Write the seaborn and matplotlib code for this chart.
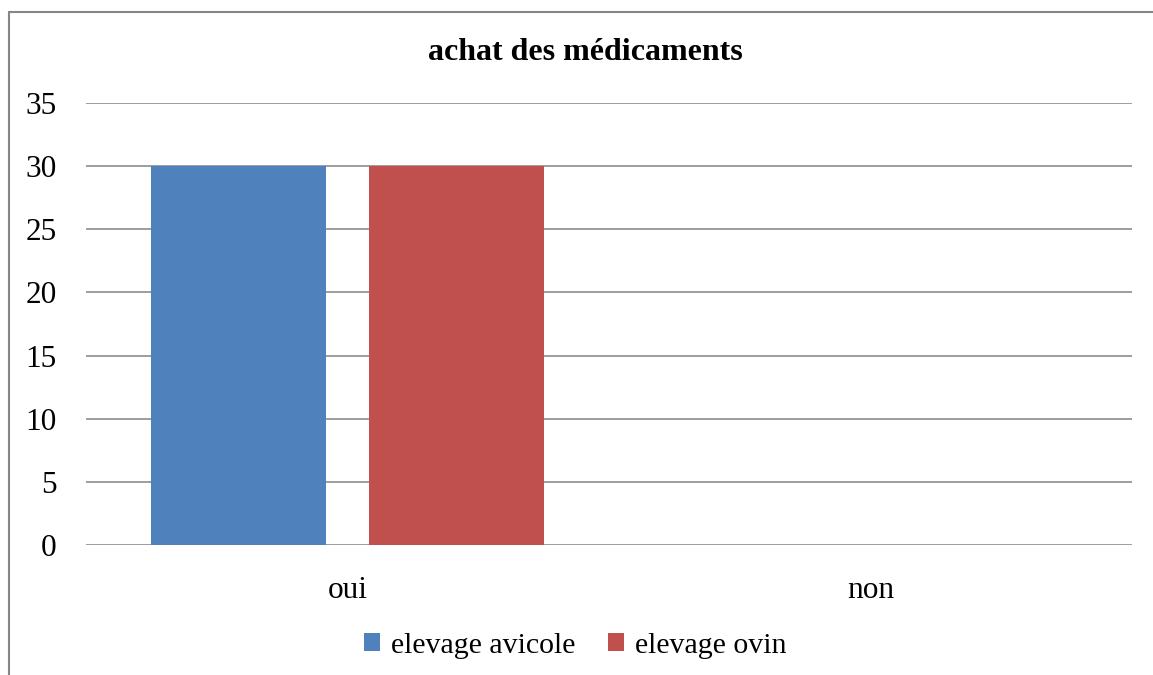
import matplotlib
matplotlib.use("Agg")
import matplotlib.pyplot as plt
import seaborn as sns
import pandas as pd
from matplotlib.lines import Line2D
from matplotlib.patches import Patch

categories = ["oui", "non"]
series_names = ["elevage avicole", "elevage ovin"]
avicole = [30, 0]
ovin = [30, 0]
colors = ["#4F81BD", "#C0504D"]
yticks = [0, 5, 10, 15, 20, 25, 30, 35]
title = "achat des médicaments"

df = pd.DataFrame({
    "cat": categories * 2,
    "serie": [series_names[0]] * 2 + [series_names[1]] * 2,
    "val": avicole + ovin,
})

sns.set_theme(style="white")
plt.rcParams["font.family"] = ["Liberation Serif", "DejaVu Serif"]
plt.rcParams["text.color"] = "black"

fig = plt.figure(figsize=(11.53, 6.75), dpi=100)
ax = fig.add_axes([86/1153, 1-545/675, (1132-86)/1153, (545-103)/675])

sns.barplot(data=df, x="cat", y="val", hue="serie", order=categories,
            hue_order=series_names, palette=colors, width=0.834, gap=0.197,
            saturation=1, ax=ax, legend=False, zorder=3, linewidth=0)

ax.set_xlim(-0.5, 1.5)
ax.set_ylim(0, 35)
ax.set_yticks(yticks)
ax.set_yticklabels([str(v) for v in yticks])
ax.grid(axis="y", color="#8C8C8C", linewidth=1.2, zorder=0)
ax.set_axisbelow(True)
for s in ax.spines.values():
    s.set_visible(False)
ax.tick_params(axis="both", length=0, labelsize=22.5, colors="black")
ax.tick_params(axis="y", pad=21)
ax.tick_params(axis="x", pad=22)
ax.set_xlabel("")
ax.set_ylabel("")

fig.text(585/1153, 1-53/675, title, ha="center", va="center",
         fontsize=23, fontweight="bold", color="black")

handles = [Patch(facecolor=c, edgecolor="none") for c in colors]
fig.legend(handles, series_names, loc="center", bbox_to_anchor=(575/1153, 1-646/675),
           ncol=2, frameon=False, fontsize=21.5, handlelength=0.55, handleheight=0.55,
           handletextpad=0.35, columnspacing=1.1, labelcolor="black")

# chart-area border (top and left only, cropped)
fig.add_artist(Line2D([9/1153, 1.0], [1-12/675, 1-12/675], transform=fig.transFigure,
                      color="#868686", linewidth=1.5))
fig.add_artist(Line2D([9/1153, 9/1153], [1-12/675, 0], transform=fig.transFigure,
                      color="#868686", linewidth=1.5))

fig.savefig("out.png", dpi=100)
